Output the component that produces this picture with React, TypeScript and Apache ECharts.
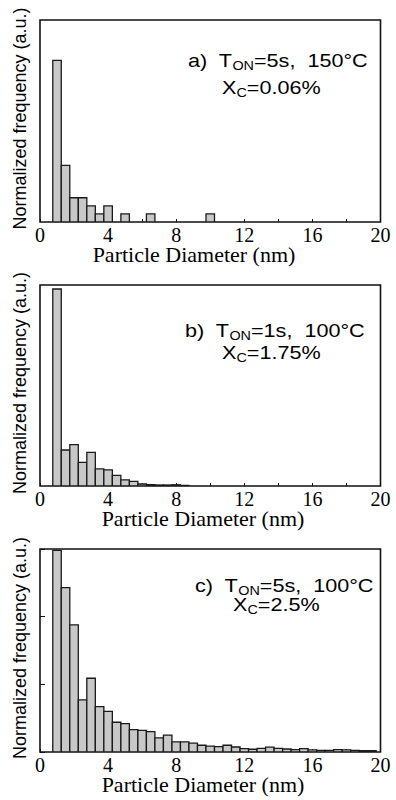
import React, { useEffect, useRef } from "react";
import * as echarts from "echarts";

// Bin centres (nm), 0.5 nm wide bins
const binCenters = [
  1.0, 1.5, 2.0, 2.5, 3.0, 3.5, 4.0, 4.5, 5.0, 5.5, 6.0, 6.5, 7.0, 7.5, 8.0, 8.5, 9.0, 9.5, 10.0,
  10.5, 11.0, 11.5, 12.0, 12.5, 13.0, 13.5, 14.0, 14.5, 15.0, 15.5, 16.0, 16.5, 17.0, 17.5, 18.0,
  18.5, 19.0, 19.5,
];
const binWidth = 0.5;

// a) T_ON=5s, 150°C
const freqA = [
  20, 7, 3, 3, 2, 1, 2, 0, 1, 0, 0, 1, 0, 0, 0, 0, 0, 0, 1,
  0, 0, 0, 0, 0, 0, 0, 0, 0, 0, 0, 0, 0, 0, 0, 0, 0, 0, 0,
];
// b) T_ON=1s, 100°C
const freqB = [
  0.98, 0.179, 0.206, 0.118, 0.167, 0.085, 0.08, 0.053, 0.03, 0.023, 0.01, 0.007, 0.005, 0.005,
  0.006, 0.003, 0, 0, 0, 0, 0, 0, 0, 0, 0, 0, 0, 0, 0, 0, 0, 0, 0, 0, 0, 0, 0, 0,
];
// c) T_ON=5s, 100°C
const freqC = [
  2.98, 2.43, 1.88, 0.77, 1.09, 0.67, 0.6, 0.44, 0.42, 0.33, 0.32, 0.3, 0.21, 0.25, 0.15, 0.15,
  0.13, 0.1, 0.086, 0.078, 0.1, 0.074, 0.049, 0.041, 0.053, 0.071, 0.053, 0.044, 0.034, 0.049,
  0.031, 0.025, 0.025, 0.034, 0.03, 0.025, 0.02, 0.02,
];

const xTickLabels = [0, 4, 8, 12, 16, 20];
const yMaxes = [25, 1, 3];
const xTitle = "Particle Diameter (nm)";
const yTitle = "Normalized frequency (a.u.)";
const annotations = [
  { tag: "a)  T", cond: "=5s,  150°C", xc: "=0.06%" },
  { tag: "b)  T", cond: "=1s,  100°C", xc: "=1.75%" },
  { tag: "c)  T", cond: "=5s,  100°C", xc: "=2.5%" },
];

const panels = [
  { top: 20, height: 202, yTicks: false, titleX: 194, l1: [188, 60.5], l2: [222, 88] },
  { top: 285, height: 201, yTicks: false, titleX: 203, l1: [185, 331], l2: [222, 353] },
  { top: 549, height: 203, yTicks: true, titleX: 203, l1: [195, 585.5], l2: [233, 604.5] },
];
const allFreqs = [freqA, freqB, freqC];

const SANS = "Liberation Sans";
const SERIF = "Liberation Serif";

function annotText(x: number, y: number, main1: string, sub: string, main2: string) {
  return {
    type: "text",
    x,
    y,
    scaleX: 1.2,
    silent: true,
    style: {
      text: `{m|${main1}}{s|${sub}}{m|${main2}}`,
      align: "left",
      verticalAlign: "middle",
      fill: "#000",
      rich: {
        m: { fontFamily: SANS, fontSize: 18, lineHeight: 22, fill: "#000" },
        s: { fontFamily: SANS, fontSize: 12, lineHeight: 12, verticalAlign: "bottom", fill: "#000" },
      },
    },
  };
}

export default function App() {
  const ref = useRef<HTMLDivElement>(null);
  useEffect(() => {
    if (!ref.current) return;
    const chart = echarts.init(ref.current, undefined, { renderer: "svg" });

    const grid = panels.map((p) => ({
      left: 40,
      width: 340.5,
      top: p.top,
      height: p.height,
      show: true,
      borderColor: "#111",
      borderWidth: 1.6,
      backgroundColor: "transparent",
      containLabel: false,
    }));

    const xAxis = panels.map((_, i) => ({
      type: "value",
      gridIndex: i,
      min: 0,
      max: 20,
      interval: 2,
      axisLine: { show: false },
      splitLine: { show: false },
      axisTick: { show: true, inside: true, length: 3, lineStyle: { color: "#111", width: 1 } },
      axisLabel: {
        show: true,
        margin: 2.5,
        fontFamily: SERIF,
        fontSize: 20,
        lineHeight: 20,
        color: "#000",
        formatter: (v: number) => (xTickLabels.includes(v) ? String(v) : ""),
      },
    }));

    const yAxis = panels.map((p, i) => ({
      type: "value",
      gridIndex: i,
      min: 0,
      max: yMaxes[i],
      interval: p.yTicks ? 1 : yMaxes[i],
      axisLine: { show: false },
      splitLine: { show: false },
      axisLabel: { show: false },
      axisTick: { show: p.yTicks, inside: true, length: 5, lineStyle: { color: "#111", width: 1 } },
    }));

    const series = panels.map((_, i) => ({
      type: "custom",
      xAxisIndex: i,
      yAxisIndex: i,
      clip: true,
      data: binCenters.map((c, j) => [c, allFreqs[i][j]]),
      renderItem: (params: any, api: any) => {
        const x = api.value(0);
        const y = api.value(1);
        if (!(y > 0)) return null;
        const p0 = api.coord([x - binWidth / 2, 0]);
        const p1 = api.coord([x + binWidth / 2, y]);
        return {
          type: "rect",
          shape: { x: p0[0], y: p1[1], width: p1[0] - p0[0], height: p0[1] - p1[1] },
          style: { fill: "#c8c8c8", stroke: "#1a1a1a", lineWidth: 1.3 },
        };
      },
    }));

    const graphic: any[] = [];
    panels.forEach((p, i) => {
      const bottom = p.top + p.height;
      graphic.push({
        type: "text",
        x: p.titleX,
        y: bottom + 33,
        scaleX: 1.1,
        silent: true,
        style: {
          text: xTitle,
          fontFamily: SERIF,
          fontSize: 20,
          lineHeight: 20,
          fill: "#000",
          align: "center",
          verticalAlign: "middle",
        },
      });
      graphic.push({
        type: "text",
        x: 20,
        y: p.top + p.height / 2 - 2.5,
        rotation: Math.PI / 2,
        silent: true,
        style: {
          text: yTitle,
          fontFamily: SANS,
          fontSize: 18,
          fill: "#000",
          align: "center",
          verticalAlign: "middle",
        },
      });
      const a = annotations[i];
      graphic.push(annotText(p.l1[0], p.l1[1], a.tag, "ON", a.cond));
      graphic.push(annotText(p.l2[0], p.l2[1], "X", "C", a.xc));
    });

    chart.setOption({
      animation: false,
      backgroundColor: "#fff",
      grid,
      xAxis,
      yAxis,
      series,
      graphic,
    });
    return () => chart.dispose();
  }, []);

  return (
    <div
      ref={ref}
      style={{ position: "absolute", left: 0, top: 0, width: 396, height: 800, background: "#fff" }}
    />
  );
}
